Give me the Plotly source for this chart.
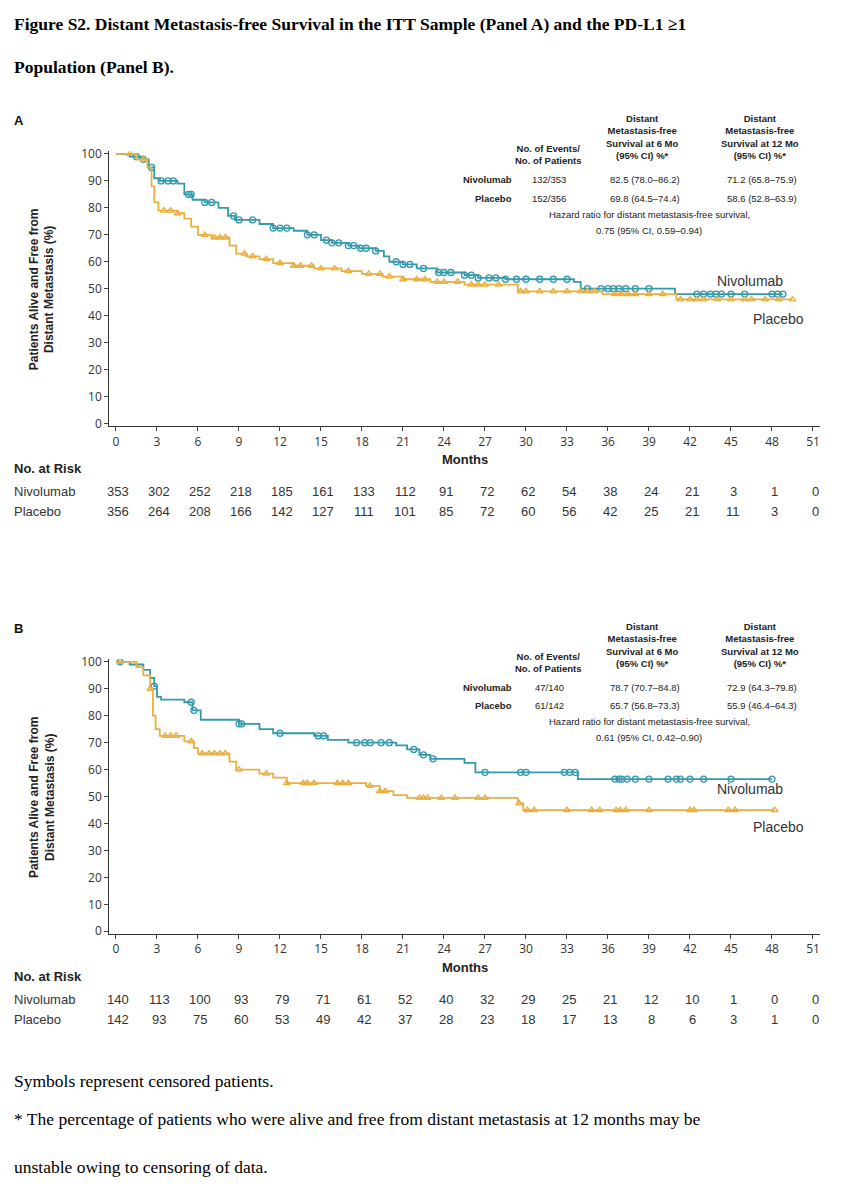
import plotly.graph_objects as go

W, H = 842, 1186
TEAL = '#3399AD'
ORANGE = '#EBAF3F'

# step curves: (month, % alive and free from distant metastasis)
panels = {
    'A': {
        'off': 0,
        'nivo': [(0, 100), (1.0, 99), (2.0, 98), (2.4, 95), (2.8, 91), (3.2, 90), (4.5, 89), (5.0, 85),
                 (5.6, 83), (6.5, 82), (7.5, 80), (8.2, 77), (8.7, 75.5), (10.5, 74), (11.5, 72.5),
                 (13.0, 71.5), (14.0, 70), (15.0, 68), (15.8, 67), (17.0, 66), (17.8, 65), (19.0, 64),
                 (19.6, 62), (20.0, 60), (21.0, 59), (22.0, 57.5), (23.5, 56), (25.5, 55), (26.5, 54),
                 (28.5, 53.5), (33.5, 52.5), (34.0, 50), (40.9, 48)],
        'nivo_c': [1.5, 2.0, 2.6, 3.3, 3.8, 4.2, 5.3, 5.5, 6.5, 7.0, 8.6, 9.0, 10.0, 11.5, 12.0, 12.5,
                   14.0, 14.5, 15.4, 15.8, 16.3, 17.0, 17.4, 17.9, 18.3, 19.0, 20.5, 21.0, 21.5, 22.5,
                   23.6, 24.0, 24.5, 25.5, 26.0, 26.5, 27.3, 27.8, 28.5, 29.3, 30.0, 31.0, 32.0, 33.0,
                   34.5, 35.5, 36.0, 36.4, 36.8, 37.3, 38.0, 39.0, 42.5, 43.0, 43.5, 43.9, 44.3, 45.0,
                   46.0, 48.0, 48.4, 48.8],
        'plac': [(0, 100), (1.5, 98), (2.3, 95), (2.6, 88), (2.8, 82), (3.1, 79), (4.5, 78), (5.0, 76),
                 (5.5, 73), (6.0, 70), (7.0, 69), (8.3, 66), (8.8, 63), (9.5, 62), (10.5, 61), (11.5, 59.5),
                 (13.0, 58.5), (14.5, 57.5), (16.5, 56.5), (18.0, 55.5), (19.5, 54.5), (21.0, 53.5),
                 (23.0, 52.5), (25.5, 51.5), (29.4, 49), (35.6, 48), (41.0, 46)],
        'plac_c': [1.0, 2.0, 3.5, 4.0, 4.5, 6.5, 7.2, 7.6, 8.0, 9.4, 10.0, 11.0, 12.0, 13.0, 13.5, 14.3,
                   15.0, 16.0, 17.0, 18.5, 19.3, 20.0, 21.0, 22.0, 22.6, 23.5, 24.0, 25.0, 26.0, 26.5,
                   27.0, 28.0, 29.6, 30.0, 31.0, 32.0, 33.0, 34.0, 34.5, 35.0, 36.5, 37.0, 37.5, 38.0,
                   39.0, 40.0, 41.3, 42.0, 42.5, 43.0, 44.0, 45.0, 46.0, 46.5, 47.5, 48.5, 49.5],
        'risk_n': [353, 302, 252, 218, 185, 161, 133, 112, 91, 72, 62, 54, 38, 24, 21, 3, 1, 0],
        'risk_p': [356, 264, 208, 166, 142, 127, 111, 101, 85, 72, 60, 56, 42, 25, 21, 11, 3, 0],
        'tab': [('132/353', '82.5 (78.0\u201386.2)', '71.2 (65.8\u201375.9)'),
                ('152/356', '69.8 (64.5\u201374.4)', '58.6 (52.8\u201363.9)')],
        'hr': '0.75 (95% CI, 0.59\u20130.94)',
    },
    'B': {
        'off': 507,
        'nivo': [(0, 100), (1.0, 99), (2.0, 97), (2.5, 94), (2.8, 91), (3.0, 87), (3.3, 86), (5.0, 85),
                 (5.6, 82), (6.2, 78.5), (9.0, 77), (10.5, 75), (11.5, 73.5), (14.5, 72.5), (15.5, 71),
                 (17.0, 70), (20.5, 69), (21.3, 67.5), (22.2, 65.5), (23.0, 64), (25.5, 62.5),
                 (26.3, 59), (33.8, 56.5)],
        'nivo_c': [0.3, 2.8, 5.5, 5.7, 9.0, 9.2, 12.0, 14.8, 15.2, 17.6, 18.2, 18.6, 19.4, 20.0, 21.8,
                   22.5, 23.2, 27.0, 29.6, 30.0, 32.8, 33.2, 33.6, 36.5, 36.8, 37.0, 37.4, 38.0, 39.0,
                   40.4, 41.0, 41.3, 42.0, 43.0, 45.0, 48.0],
        'plac': [(0, 100), (1.5, 98), (2.0, 95), (2.5, 90), (2.7, 80), (2.9, 75), (3.2, 72.5), (5.0, 70.5),
                 (5.7, 68), (6.0, 66), (8.3, 63), (8.8, 60), (10.5, 58.5), (11.5, 57), (12.5, 55),
                 (18.3, 54), (19.3, 52), (20.3, 50.5), (21.3, 49.5), (29.4, 47.5), (29.8, 45)],
        'plac_c': [0.3, 2.5, 3.6, 4.0, 4.4, 5.5, 6.3, 6.8, 7.2, 7.6, 8.0, 9.0, 11.0, 12.5, 13.7, 14.0,
                   14.5, 16.2, 16.6, 17.0, 18.6, 19.3, 19.7, 22.2, 22.5, 22.8, 23.8, 24.8, 26.5, 27.0,
                   29.5, 30.1, 30.6, 33.0, 34.8, 35.4, 36.6, 36.9, 37.3, 39.0, 42.0, 42.3, 44.8, 45.3, 48.2],
        'risk_n': [140, 113, 100, 93, 79, 71, 61, 52, 40, 32, 29, 25, 21, 12, 10, 1, 0, 0],
        'risk_p': [142, 93, 75, 60, 53, 49, 42, 37, 28, 23, 18, 17, 13, 8, 6, 3, 1, 0],
        'tab': [('47/140', '78.7 (70.7\u201384.8)', '72.9 (64.3\u201379.8)'),
                ('61/142', '65.7 (56.8\u201373.3)', '55.9 (46.4\u201364.3)')],
        'hr': '0.61 (95% CI, 0.42\u20130.90)',
    },
}


def step_xy(pts, end):
    xs, ys = [], []
    for i, (t, s) in enumerate(pts):
        if i > 0:
            xs.append(t)
            ys.append(pts[i - 1][1])
        xs.append(t)
        ys.append(s)
    xs.append(end)
    ys.append(pts[-1][1])
    return xs, ys


def surv_at(pts, t):
    s = pts[0][1]
    for tt, ss in pts:
        if tt <= t:
            s = ss
    return s


# page pixel -> paper fraction (corrected for the offset seen in the first render)
def px(x):
    return (x - 8) / W


def py(y):
    return 1 - ((y - 15.3) / 0.989) / H


fig = go.Figure()
ann = []
pxm = 697 / 51
ppc = 2.69

for k, (name, p) in enumerate(panels.items()):
    off = p['off']
    xa = 'x' if k == 0 else 'x2'
    ya = 'y' if k == 0 else 'y2'
    for key, col, sym in [('nivo', TEAL, 'circle-open'), ('plac', ORANGE, 'triangle-up-open')]:
        cens = p[key + '_c']
        xs, ys = step_xy(p[key], max(cens))
        fig.add_trace(go.Scatter(x=xs, y=ys, mode='lines', line=dict(color=col, width=1.8),
                                 xaxis=xa, yaxis=ya, showlegend=False, hoverinfo='skip'))
        fig.add_trace(go.Scatter(x=cens, y=[surv_at(p[key], c) for c in cens], mode='markers',
                                 marker=dict(symbol=sym, color=col, size=6, line=dict(width=1.3, color=col)),
                                 xaxis=xa, yaxis=ya, showlegend=False, hoverinfo='skip'))

    dom_x = [px(116 - 0.5 * pxm), px(813 + 0.5 * pxm)]
    dom_y = [py(424 + off + 1 * ppc), py(155 + off - 1 * ppc)]
    axx = dict(domain=dom_x, range=[-0.5, 51.5], tickvals=list(range(0, 52, 3)), ticks='outside',
               ticklen=4, showline=True, linecolor='#333', showgrid=False, zeroline=False,
               tickfont=dict(size=12, color='#333'), anchor=ya)
    axy = dict(domain=dom_y, range=[-1, 101], tickvals=list(range(0, 101, 10)), ticks='outside',
               ticklen=4, showline=True, linecolor='#333', showgrid=False, zeroline=False,
               tickfont=dict(size=12, color='#333'), anchor=xa)
    if k == 0:
        fig.update_layout(xaxis=axx, yaxis=axy)
    else:
        fig.update_layout(xaxis2=axx, yaxis2=axy)

    def A(x, y, text, size=9, bold=False, xanchor='center', color='#222'):
        if bold:
            text = '<b>' + text + '</b>'
        ann.append(dict(x=px(x), y=py(y + off), xref='paper', yref='paper', text=text, showarrow=False,
                        xanchor=xanchor, yanchor='middle', font=dict(size=size, color=color,
                                                                      family='Liberation Sans')))

    A(12, 122, name, 13, True, 'left', '#111')
    A(42, 290, '<b>Patients Alive and Free from<br>Distant Metastasis (%)</b>', 12)
    ann[-1]['textangle'] = -90
    A(465, 460, 'Months', 13, True)
    A(642, 138, 'Distant<br>Metastasis-free<br>Survival at 6 Mo<br>(95% CI) %*', 9.5, True)
    A(760, 138, 'Distant<br>Metastasis-free<br>Survival at 12 Mo<br>(95% CI) %*', 9.5, True)
    A(548, 156, 'No. of Events/<br>No. of Patients', 9.5, True)
    for j, (lab, row) in enumerate(zip(['Nivolumab', 'Placebo'], p['tab'])):
        yy = 181 + 18 * j
        A(514, yy, lab, 9.5, True, 'right')
        A(549, yy, row[0], 9.5)
        A(645, yy, row[1], 9.5)
        A(762, yy, row[2], 9.5)
    A(649, 215, 'Hazard ratio for distant metastasis-free survival,', 9.5)
    A(649, 231, p['hr'], 9.5)
    A(750, 282, 'Nivolumab', 14, False, 'center', '#333')
    A(778, 320, 'Placebo', 14, False, 'center', '#333')
    A(12, 469, 'No. at Risk', 13, True, 'left')
    A(12, 492, 'Nivolumab', 13, False, 'left', '#333')
    A(12, 512, 'Placebo', 13, False, 'left', '#333')
    for i, (a, b) in enumerate(zip(p['risk_n'], p['risk_p'])):
        xx = 118 + i * 3 * pxm
        A(xx, 492, str(a), 13, False, 'center', '#333')
        A(xx, 512, str(b), 13, False, 'center', '#333')

serif = 'Liberation Serif'
for y, t, b in [(25, 'Figure S2. Distant Metastasis-free Survival in the ITT Sample (Panel A) and the PD-L1 \u22651', True),
                (68, 'Population (Panel B).', True),
                (1080, 'Symbols represent censored patients.', False),
                (1118, '* The percentage of patients who were alive and free from distant metastasis at 12 months may be', False),
                (1166, 'unstable owing to censoring of data.', False)]:
    ann.append(dict(x=px(12), y=py(y), xref='paper', yref='paper', showarrow=False, xanchor='left',
                    yanchor='middle', text=('<b>%s</b>' % t) if b else t,
                    font=dict(family=serif, size=17.5, color='#000')))

fig.update_layout(width=W, height=H, margin=dict(l=0, r=0, t=0, b=0), plot_bgcolor='white',
                  paper_bgcolor='white', annotations=ann, showlegend=False)
fig.write_html("out.html")
